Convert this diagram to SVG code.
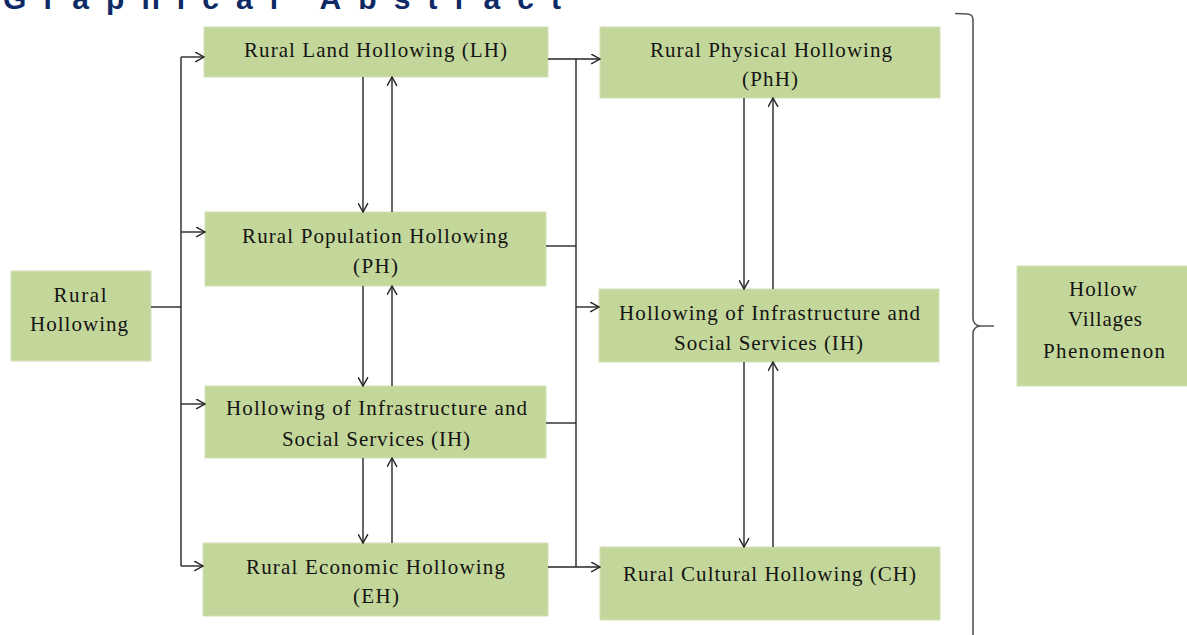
<svg xmlns="http://www.w3.org/2000/svg" width="1187" height="635" viewBox="0 0 1187 635">
<style>
.box{fill:#c4d79b;stroke:#d3e1b5;stroke-width:1}
.t{font-family:"Liberation Serif","Times New Roman",serif;font-size:21px;fill:#141414;text-anchor:middle}
.c{fill:none;stroke:#262626;stroke-width:1.4}
.title{font-family:"Liberation Sans",Arial,sans-serif;font-weight:bold;font-size:30px;fill:#0d2a66}
</style>
<defs>
<marker id="ah" viewBox="0 0 10 10" refX="9" refY="5" markerWidth="11" markerHeight="11" markerUnits="userSpaceOnUse" orient="auto">
<path d="M1,0.5 L9,5 L1,9.5" fill="none" stroke="#262626" stroke-width="1.3"/>
</marker>
</defs>
<rect width="1187" height="635" fill="#ffffff"/>
<text class="title" x="3" y="9" textLength="558" lengthAdjust="spacing">Graphical Abstract</text>

<g id="rural-hollowing">
<rect class="box" x="11" y="271" width="140" height="90"/>
<text class="t" x="80" y="302" textLength="53" lengthAdjust="spacing">Rural</text>
<text class="t" x="79" y="331" textLength="98" lengthAdjust="spacing">Hollowing</text>
</g>
<g id="lh">
<rect class="box" x="204" y="27" width="344" height="50"/>
<text class="t" x="375.5" y="57" textLength="263" lengthAdjust="spacing">Rural Land Hollowing (LH)</text>
</g>
<g id="ph">
<rect class="box" x="205" y="212" width="341" height="74"/>
<text class="t" x="375" y="243" textLength="266" lengthAdjust="spacing">Rural Population Hollowing</text>
<text class="t" x="375.5" y="273" textLength="45" lengthAdjust="spacing">(PH)</text>
</g>
<g id="ih-left">
<rect class="box" x="205" y="386" width="341" height="72"/>
<text class="t" x="376.5" y="415" textLength="301" lengthAdjust="spacing">Hollowing of Infrastructure and</text>
<text class="t" x="376" y="446" textLength="188" lengthAdjust="spacing">Social Services (IH)</text>
</g>
<g id="eh">
<rect class="box" x="203" y="543" width="345" height="73"/>
<text class="t" x="375.5" y="574" textLength="259" lengthAdjust="spacing">Rural Economic Hollowing</text>
<text class="t" x="376" y="603" textLength="46" lengthAdjust="spacing">(EH)</text>
</g>
<g id="phh">
<rect class="box" x="600" y="27" width="340" height="71"/>
<text class="t" x="771" y="57" textLength="242" lengthAdjust="spacing">Rural Physical Hollowing</text>
<text class="t" x="770" y="86" textLength="56" lengthAdjust="spacing">(PhH)</text>
</g>
<g id="ih-right">
<rect class="box" x="599" y="289" width="340" height="73"/>
<text class="t" x="769.5" y="320" textLength="301" lengthAdjust="spacing">Hollowing of Infrastructure and</text>
<text class="t" x="768.5" y="350" textLength="189" lengthAdjust="spacing">Social Services (IH)</text>
</g>
<g id="ch">
<rect class="box" x="600" y="547" width="340" height="73"/>
<text class="t" x="769.5" y="581" textLength="293" lengthAdjust="spacing">Rural Cultural Hollowing (CH)</text>
</g>
<g id="hollow-villages">
<rect class="box" x="1017" y="266" width="175" height="120"/>
<text class="t" x="1103" y="296" textLength="68" lengthAdjust="spacing">Hollow</text>
<text class="t" x="1105" y="326" textLength="74" lengthAdjust="spacing">Villages</text>
<text class="t" x="1104" y="358" textLength="122" lengthAdjust="spacing">Phenomenon</text>
</g>

<g id="connectors">
<line class="c" x1="151" y1="307" x2="181" y2="307"/>
<line class="c" x1="181" y1="57" x2="181" y2="566"/>
<line class="c" x1="181" y1="57" x2="204" y2="57" marker-end="url(#ah)"/>
<line class="c" x1="181" y1="232" x2="205" y2="232" marker-end="url(#ah)"/>
<line class="c" x1="181" y1="404" x2="205" y2="404" marker-end="url(#ah)"/>
<line class="c" x1="181" y1="566" x2="203" y2="566" marker-end="url(#ah)"/>

<line class="c" x1="548" y1="59" x2="600" y2="59" marker-end="url(#ah)"/>
<line class="c" x1="576" y1="59" x2="576" y2="567"/>
<line class="c" x1="546" y1="246" x2="576" y2="246"/>
<line class="c" x1="546" y1="423" x2="576" y2="423"/>
<line class="c" x1="548" y1="567" x2="600" y2="567" marker-end="url(#ah)"/>
<line class="c" x1="576" y1="307" x2="599" y2="307" marker-end="url(#ah)"/>

<line class="c" x1="363" y1="77" x2="363" y2="212" marker-end="url(#ah)"/>
<line class="c" x1="392" y1="212" x2="392" y2="77" marker-end="url(#ah)"/>
<line class="c" x1="363" y1="286" x2="363" y2="386" marker-end="url(#ah)"/>
<line class="c" x1="392" y1="386" x2="392" y2="286" marker-end="url(#ah)"/>
<line class="c" x1="363" y1="458" x2="363" y2="543" marker-end="url(#ah)"/>
<line class="c" x1="392" y1="543" x2="392" y2="458" marker-end="url(#ah)"/>

<line class="c" x1="744" y1="98" x2="744" y2="289" marker-end="url(#ah)"/>
<line class="c" x1="773" y1="289" x2="773" y2="98" marker-end="url(#ah)"/>
<line class="c" x1="744" y1="362" x2="744" y2="547" marker-end="url(#ah)"/>
<line class="c" x1="773" y1="547" x2="773" y2="362" marker-end="url(#ah)"/>

<path d="M955,13.5 L968,14 Q973,14.5 973,20 L973,318 Q973,325 980,326 L994,326 M980,326 Q973,327 973,334 L973,636" fill="none" stroke="#555555" stroke-width="1.6"/>
</g>
</svg>
